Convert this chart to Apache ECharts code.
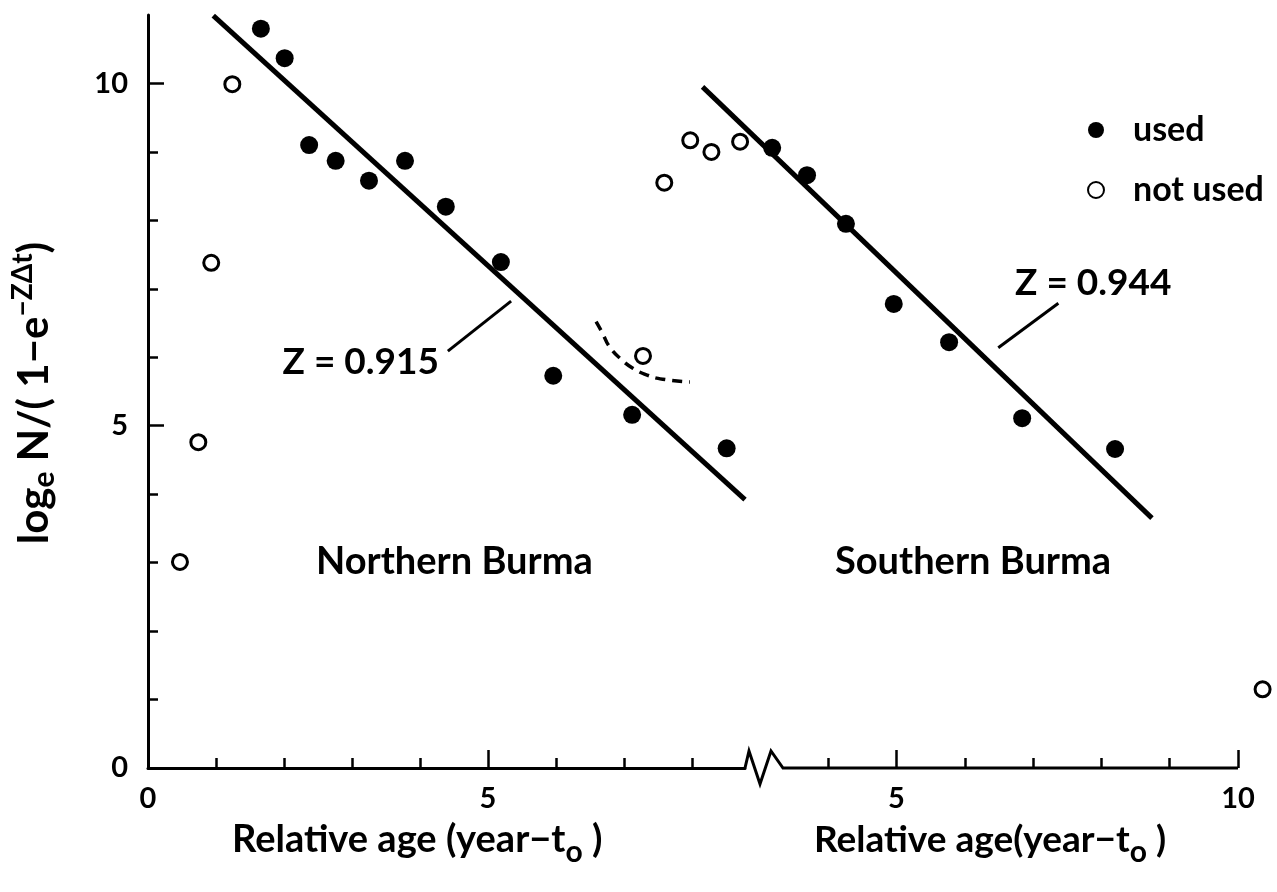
<!DOCTYPE html>
<html>
<head>
<meta charset="utf-8" />
<script src="https://cdn.jsdelivr.net/npm/echarts@6/dist/echarts.min.js"></script>
<style>
  html, body { margin: 0; padding: 0; background: #fff; }
  #main { width: 1277px; height: 892px; }
</style>
</head>
<body>
<div id="main"></div>
<script>
// Northern Burma, left age scale
var northUsed = [[1.66, 10.80], [2.01, 10.37], [2.37, 9.10], [2.76, 8.87], [3.25, 8.58], [3.78, 8.87],
                 [4.38, 8.20], [5.19, 7.39], [5.96, 5.73], [7.12, 5.16], [8.51, 4.67]];
var northNotUsed = [[0.47, 3.01], [0.74, 4.76], [0.93, 7.38], [1.24, 9.99], [7.28, 6.02]];
var northFit = [[0.96, 10.99], [8.78, 3.92]];
var northLeader = [[4.41, 6.09], [5.34, 6.82]];
var northDashed = [[6.59, 6.52], [6.68, 6.36], [6.79, 6.15], [6.97, 5.96], [7.13, 5.84], [7.34, 5.74], [7.57, 5.68], [7.97, 5.64]];

// Southern Burma, right age scale
var southUsed = [[3.18, 9.06], [3.69, 8.66], [4.26, 7.95], [4.96, 6.78], [5.77, 6.22], [6.84, 5.11], [8.20, 4.66]];
var southNotUsed = [[1.60, 8.55], [1.98, 9.17], [2.29, 9.00], [2.71, 9.15], [10.36, 1.15]];
var southFit = [[2.16, 9.95], [8.74, 3.65]];
var southLeader = [[6.49, 6.14], [7.37, 6.79]];

// ticks
var yLabels = [0, 5, 10];
var yMajor = [5, 10];
var yMinor = [1, 2, 3, 4, 6, 7, 8, 9];
var northLabels = [0, 5];
var northMajor = [5];
var northMinor = [1, 2, 3, 4, 6, 7, 8];
var southLabels = [5, 10];
var southMajor = [5, 10];
var southMinor = [4, 6, 7, 8, 9];

var font = 'Lato';
var black = '#000';

function tickAxis(grid, min, max, ticks, len, labels, showLine) {
    return {
        type: 'value', gridIndex: grid, min: min, max: max, position: 'bottom',
        splitLine: { show: false },
        axisLine: { show: showLine, onZero: false, lineStyle: { color: black, width: 3 } },
        axisTick: { show: true, inside: true, length: len, customValues: ticks, lineStyle: { color: black, width: 2.5 } },
        axisLabel: labels ? { show: true, customValues: labels, margin: 16, color: black, fontFamily: font, fontWeight: 'bold', fontSize: 29 } : { show: false }
    };
}

var usedStyle = { color: black, opacity: 1 };
var openStyle = { color: '#fff', borderColor: black, borderWidth: 3, opacity: 1 };
var subStyle = { fontFamily: font, fontWeight: 'bold', fontSize: 30, padding: [24, 0, 0, 0], verticalAlign: 'middle' };

var chart = echarts.init(document.getElementById('main'));
var option = {
    animation: false,
    backgroundColor: '#fff',
    grid: [
        { left: 148, top: 15, width: 597, height: 753 },
        { left: 555, top: 15, width: 683, height: 753 }
    ],
    xAxis: [
        tickAxis(0, 0, 8.78, northMinor, 10, northLabels, true),
        tickAxis(0, 0, 8.78, northMajor, 18, null, false),
        tickAxis(1, 0, 10, southMinor, 10, southLabels, false),
        tickAxis(1, 0, 10, southMajor, 18, null, false)
    ],
    yAxis: [
        {
            type: 'value', gridIndex: 0, min: 0, max: 11, position: 'left',
            splitLine: { show: false },
            axisLine: { show: true, lineStyle: { color: black, width: 3 } },
            axisTick: { show: true, inside: true, length: 16, customValues: yMajor, lineStyle: { color: black, width: 2.5 } },
            axisLabel: { customValues: yLabels, margin: 20, color: black, fontFamily: font, fontWeight: 'bold', fontSize: 29 }
        },
        {
            type: 'value', gridIndex: 0, min: 0, max: 11, position: 'left',
            splitLine: { show: false },
            axisLine: { show: false },
            axisTick: { show: true, inside: true, length: 10, customValues: yMinor, lineStyle: { color: black, width: 2.5 } },
            axisLabel: { show: false }
        },
        { type: 'value', gridIndex: 1, min: 0, max: 11, show: false }
    ],
    legend: {
        orient: 'vertical', left: 1082, top: 107, itemGap: 24,
        itemWidth: 16, itemHeight: 16, icon: 'circle',
        selectedMode: false,
        textStyle: { color: black, fontFamily: font, fontWeight: 'bold', fontSize: 34, lineHeight: 36, padding: [0, 0, 0, 24] },
        data: ['used', 'not used']
    },
    series: [
        { name: 'used', type: 'scatter', xAxisIndex: 0, yAxisIndex: 0, data: northUsed, symbolSize: 18, itemStyle: usedStyle, z: 5 },
        { name: 'not used', type: 'scatter', xAxisIndex: 0, yAxisIndex: 0, data: northNotUsed, symbolSize: 15, clip: false, itemStyle: openStyle, z: 5 },
        { name: 'used', type: 'scatter', xAxisIndex: 2, yAxisIndex: 2, data: southUsed, symbolSize: 18, itemStyle: usedStyle, z: 5 },
        { name: 'not used', type: 'scatter', xAxisIndex: 2, yAxisIndex: 2, data: southNotUsed, symbolSize: 15, clip: false, itemStyle: openStyle, z: 5 },
        { type: 'line', xAxisIndex: 0, yAxisIndex: 0, data: northFit, symbol: 'none', clip: false, lineStyle: { color: black, width: 5 } },
        { type: 'line', xAxisIndex: 2, yAxisIndex: 2, data: southFit, symbol: 'none', clip: false, lineStyle: { color: black, width: 5 } },
        { type: 'line', xAxisIndex: 0, yAxisIndex: 0, data: northLeader, symbol: 'none', lineStyle: { color: black, width: 3 } },
        { type: 'line', xAxisIndex: 2, yAxisIndex: 2, data: southLeader, symbol: 'none', lineStyle: { color: black, width: 3 } },
        { type: 'line', xAxisIndex: 0, yAxisIndex: 0, data: northDashed, symbol: 'none', smooth: true,
          lineStyle: { color: black, width: 3.5, type: [10, 7] } }
    ],
    graphic: [
        // axis break and the rest of the bottom axis line
        { type: 'polyline', z: 10, shape: { points: [[745, 768], [749, 751], [760, 784], [771, 751], [783, 768], [1238, 768]] },
          style: { stroke: black, lineWidth: 3, fill: null } },
        { type: 'text', x: 316, y: 562, z: 10, style: { text: 'Northern Burma', fill: black, font: 'bold 38px Lato', textVerticalAlign: 'middle' } },
        { type: 'text', x: 835, y: 562, z: 10, style: { text: 'Southern Burma', fill: black, font: 'bold 38px Lato', textVerticalAlign: 'middle' } },
        { type: 'text', x: 439, y: 362, z: 10, style: { text: 'Z = 0.915', fill: black, font: 'bold 37px Lato', textAlign: 'right', textVerticalAlign: 'middle' } },
        { type: 'text', x: 1015, y: 283, z: 10, style: { text: 'Z = 0.944', fill: black, font: 'bold 37px Lato', textVerticalAlign: 'middle' } },
        { type: 'text', x: 232, y: 840, z: 10, style: {
            text: 'Relative age (year\u2212t{sub|o} )', fill: black, font: 'bold 38px Lato', textVerticalAlign: 'middle',
            rich: { sub: subStyle } } },
        { type: 'text', x: 814, y: 840, z: 10, style: {
            text: 'Relative age(year\u2212t{sub|o} )', fill: black, font: 'bold 37px Lato', textVerticalAlign: 'middle',
            rich: { sub: subStyle } } },
        { type: 'text', x: 34, y: 393, z: 10, rotation: Math.PI / 2, style: {
            text: 'log{sub|e} N/( 1\u2212e{sup|\u2212Z\u0394t})', fill: black, font: 'bold 42px Lato', textAlign: 'center', textVerticalAlign: 'middle',
            rich: {
                sub: { fontFamily: font, fontWeight: 'bold', fontSize: 30, padding: [20, 0, 0, 0], verticalAlign: 'middle' },
                sup: { fontFamily: font, fontWeight: 'bold', fontSize: 28, padding: [0, 0, 22, 0], verticalAlign: 'middle' }
            } } }
    ]
};
chart.setOption(option);
</script>
</body>
</html>
